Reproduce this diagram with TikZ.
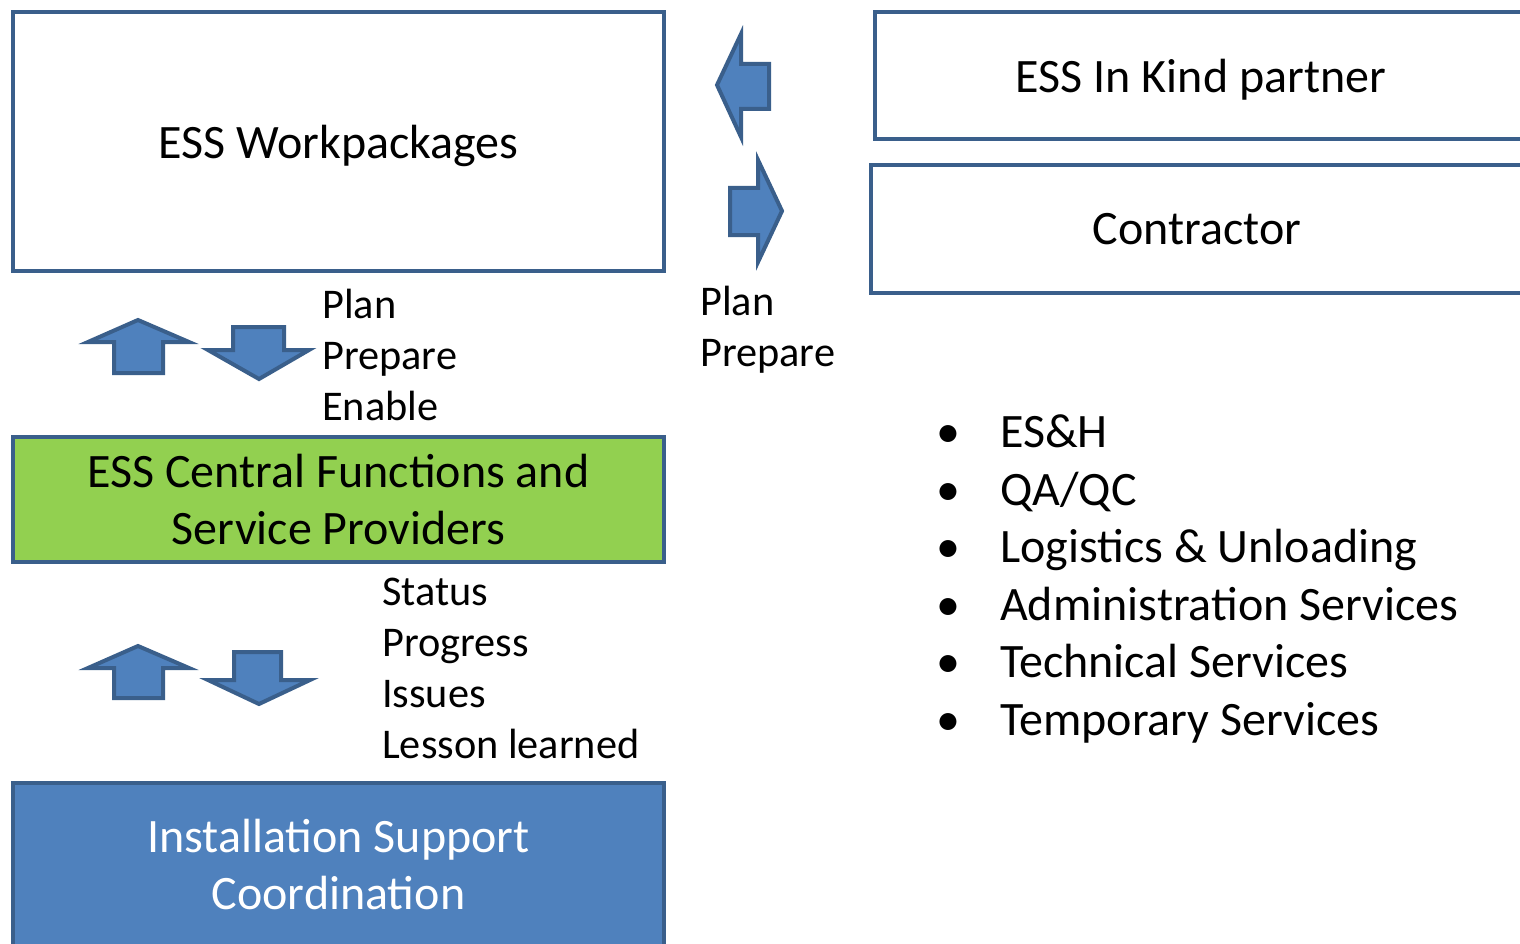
\documentclass[tikz,border=0pt]{standalone}
\usepackage{fontspec}
\setmainfont{Carlito}
\usetikzlibrary{positioning}
\definecolor{essline}{HTML}{3A5F8B}
\definecolor{essblue}{HTML}{4F81BD}
\definecolor{essgreen}{HTML}{92D050}
\tikzset{box/.style={draw=essline, line width=4pt, inner sep=0pt, align=center, font=\fontsize{48}{57}\selectfont},
    lbl/.style={inner sep=0pt, align=left, anchor=west, font=\fontsize{42.3}{51}\selectfont},
    blockarr/.style={draw=essline, fill=essblue, line width=4pt, line join=miter}}
\newcommand{\bul}{\makebox[64pt][l]{\textbullet}}

\begin{document}
\begin{tikzpicture}[x=1pt,y=-1pt]
    \useasboundingbox (0,0) rectangle (1520,944);
    \clip (0,0) rectangle (1520,944);
    % boxes on the left
    \node[box, text depth=0pt, minimum width=651, minimum height=259] (wp) at (338.5,141.5) {ESS Workpackages};
    \node[box, fill=essgreen, minimum width=651, minimum height=125] (cf) at (338.5,499.5) {ESS Central Functions and\\Service Providers};
    \node[box, fill=essblue, text=white, minimum width=651, minimum height=164] (isc) at (338.5,865) {Installation Support\\Coordination};
    % boxes on the right
    \node[box, text depth=0pt, minimum width=652, minimum height=127] (ikp) at (1201,75.5) {ESS In Kind partner};
    \node[box, text depth=0pt, minimum width=652, minimum height=128] (con) at (1197,229) {Contractor};
    % labels
    \node[lbl] (ppe) at (322,355) {Plan\\Prepare\\Enable};
    \node[lbl] (pp) at (700,329.5) {Plan\\Prepare};
    \node[lbl] (spi) at (382,668.5) {Status\\Progress\\Issues\\Lesson learned};
    \node[lbl, font=\fontsize{48}{57.6}\selectfont] (svc) at (936,579) {\bul ES\&H\\\bul QA/QC\\\bul Logistics \& Unloading\\\bul Administration Services\\\bul Technical Services\\\bul Temporary Services};
    % block arrows
    \draw[blockarr] (114,373) -- (114,342) -- (88,342) -- (138,320) -- (189,342) -- (163,342) -- (163,373) -- cycle;
    \draw[blockarr] (233,327) -- (284,327) -- (284,350) -- (309,350) -- (259,379) -- (208,350) -- (233,350) -- cycle;
    \draw[blockarr] (114,698) -- (114,668) -- (88,668) -- (138,646) -- (189,668) -- (163,668) -- (163,698) -- cycle;
    \draw[blockarr] (234,652) -- (281,652) -- (281,680) -- (310,680) -- (259,704) -- (208,680) -- (234,680) -- cycle;
    \draw[blockarr] (769,64) -- (741,64) -- (741,34) -- (717,85) -- (741,137) -- (741,109) -- (769,109) -- cycle;
    \draw[blockarr] (730,188) -- (758,188) -- (758,160) -- (782,211) -- (758,262) -- (758,235) -- (730,235) -- cycle;
\end{tikzpicture}
\end{document}
